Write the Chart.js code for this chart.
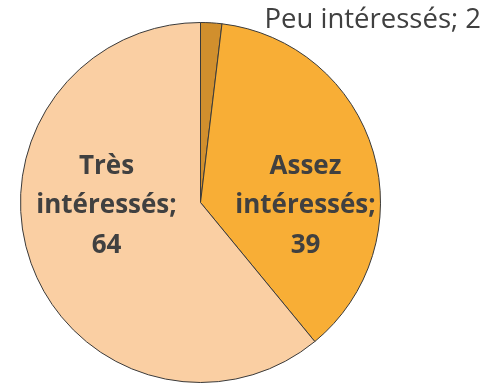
<!DOCTYPE html>
<html lang="fr">
<head>
<meta charset="utf-8">
<script src="https://cdn.jsdelivr.net/npm/chart.js@4.4.0/dist/chart.umd.min.js"></script>
<style>
  html, body { margin: 0; padding: 0; background: #fff; }
  #wrap { width: 499px; height: 384px; }
</style>
</head>
<body>
<div id="wrap"><canvas id="grafica" width="499" height="384"></canvas></div>
<script>
const categories = ['Peu intéressés', 'Assez intéressés', 'Très intéressés'];
const valeurs = [2, 39, 64];
const couleurs = ['#D18F2D', '#F8AE36', '#FACFA3'];

// libellés "catégorie; valeur" posés près du centre de chaque part
const etiquettes = {
  id: 'etiquettes',
  afterDatasetsDraw(chart) {
    const ctx = chart.ctx;
    const arcs = chart.getDatasetMeta(0).data;
    ctx.save();
    ctx.fillStyle = '#404040';
    ctx.textBaseline = 'alphabetic';

    // petite part : libellé à l'extérieur, sur une ligne
    const p = arcs[0].getProps(['x', 'y', 'outerRadius'], true);
    ctx.font = '27.5px "Open Sans"';
    ctx.textAlign = 'left';
    ctx.fillText(categories[0] + '; ' + valeurs[0], p.x + 64, p.y - p.outerRadius + 5);

    // grandes parts : libellé en gras sur trois lignes
    const decalages = [null, [105, 0], [-94, 0]];
    ctx.font = 'bold 26px "Open Sans"';
    ctx.textAlign = 'center';
    for (let i = 1; i < arcs.length; i++) {
      const a = arcs[i].getProps(['x', 'y'], true);
      const cx = a.x + decalages[i][0];
      const cy = a.y + decalages[i][1];
      const mots = categories[i].split(' ');
      ctx.fillText(mots[0], cx, cy - 29);
      ctx.fillText(mots[1] + ';', cx, cy + 10);
      ctx.fillText(String(valeurs[i]), cx, cy + 50);
    }
    ctx.restore();
  }
};

new Chart(document.getElementById('grafica').getContext('2d'), {
  type: 'pie',
  data: {
    labels: categories,
    datasets: [{
      data: valeurs,
      backgroundColor: couleurs,
      borderColor: '#3A3A3A',
      borderWidth: 1
    }]
  },
  options: {
    responsive: false,
    animation: false,
    layout: { padding: { top: 22, bottom: 1, left: 20, right: 118 } },
    plugins: {
      legend: { display: false },
      tooltip: { enabled: false }
    }
  },
  plugins: [etiquettes]
});
</script>
</body>
</html>
